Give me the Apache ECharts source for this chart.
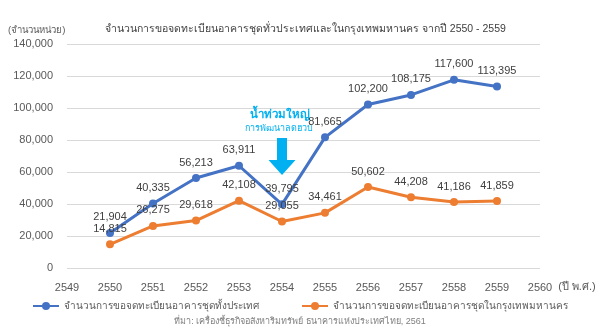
<!DOCTYPE html>
<html>
<head>
<meta charset="utf-8">
<script src="https://cdn.jsdelivr.net/npm/echarts@6/dist/echarts.min.js"></script>
<style>
  html, body { margin: 0; padding: 0; background: #fff; }
  #chart { width: 600px; height: 334px; }
</style>
</head>
<body>
<div id="chart"></div>
<script>
// Years (Buddhist Era) and condominium registration counts
const years = [2550, 2551, 2552, 2553, 2554, 2555, 2556, 2557, 2558, 2559];
const nationwide = [21904, 40335, 56213, 63911, 39795, 81665, 102200, 108175, 117600, 113395];
const bangkok = [14815, 26275, 29618, 42108, 29055, 34461, 50602, 44208, 41186, 41859];
const yTicks = [0, 20000, 40000, 60000, 80000, 100000, 120000, 140000];

const seriesNames = [
  'จำนวนการขอจดทะเบียนอาคารชุดทั้งประเทศ',
  'จำนวนการขอจดทะเบียนอาคารชุดในกรุงเทพมหานคร'
];
const titleText = 'จำนวนการขอจดทะเบียนอาคารชุดทั่วประเทศและในกรุงเทพมหานคร จากปี 2550 - 2559';
const unitText = '(จำนวนหน่วย)';
const sourceText = 'ที่มา: เครื่องชี้ธุรกิจอสังหาริมทรัพย์ ธนาคารแห่งประเทศไทย, 2561';
const floodTitle = 'น้ำท่วมใหญ่';
const floodSub = 'การพัฒนาลดฮวบ';
const floodYear = 2554;

const FONT = 'sans-serif';
const BLUE = '#4472C4';
const ORANGE = '#ED7D31';
const CYAN = '#00B0F0';

const fmt = v => v.toLocaleString('en-US');

const chart = echarts.init(document.getElementById('chart'));

function lineSeries(name, values, color) {
  return {
    name: name,
    type: 'line',
    data: years.map((y, i) => [y, values[i]]),
    symbol: 'circle',
    symbolSize: 8,
    lineStyle: { width: 3, color: color },
    itemStyle: { color: color },
    label: {
      show: true,
      position: 'top',
      distance: 6,
      color: '#404040',
      fontSize: 11,
      fontFamily: FONT,
      formatter: p => fmt(p.value[1])
    },
    z: 3
  };
}

chart.setOption({
  animation: false,
  textStyle: { fontFamily: FONT },
  title: [
    { text: titleText, left: 100, top: 19, textStyle: { fontSize: 10.5, fontWeight: 'normal', color: '#404040', fontFamily: FONT } },
    { text: unitText, left: 3, top: 20, textStyle: { fontSize: 9.5, fontWeight: 'normal', color: '#595959', fontFamily: FONT } },
    { text: sourceText, left: 'center', top: 312, textStyle: { fontSize: 9, fontWeight: 'normal', color: '#7F7F7F', fontFamily: FONT } }
  ],
  grid: { left: 67, right: 60, top: 44, bottom: 66, containLabel: false },
  legend: {
    top: 296,
    left: 'center',
    itemWidth: 26,
    itemHeight: 10,
    itemGap: 42,
    textStyle: { fontSize: 10, color: '#595959', fontFamily: FONT },
    data: seriesNames
  },
  xAxis: {
    type: 'value',
    min: 2549,
    max: 2560,
    interval: 1,
    name: '(ปี พ.ศ.)',
    nameLocation: 'end',
    nameGap: 14,
    nameTextStyle: { fontSize: 11, color: '#595959', verticalAlign: 'top', padding: [13, 0, 0, 0], fontFamily: FONT },
    axisLine: { show: false },
    axisTick: { show: false },
    splitLine: { show: false },
    axisLabel: { color: '#595959', fontSize: 11, margin: 14, formatter: v => String(v) }
  },
  yAxis: {
    type: 'value',
    min: yTicks[0],
    max: yTicks[yTicks.length - 1],
    interval: yTicks[1] - yTicks[0],
    axisLine: { show: false },
    axisTick: { show: false },
    splitLine: { lineStyle: { color: '#D9D9D9', width: 1 } },
    axisLabel: { color: '#595959', fontSize: 11, margin: 14, formatter: v => fmt(v) }
  },
  series: [
    lineSeries(seriesNames[0], nationwide, BLUE),
    lineSeries(seriesNames[1], bangkok, ORANGE)
  ]
});

// Flood annotation: text and a downward arrow above the 2554 dip
function drawAnnotation() {
  const p = v => chart.convertToPixel({ gridIndex: 0 }, [floodYear, v]);
  const head = p(95600);
  const sub = p(86900);
  const shaftTop = p(81250)[1];
  const headTop = p(67500)[1];
  const tip = p(58100)[1];
  const x = head[0];
  chart.setOption({
    graphic: [
      { type: 'text', x: x - 2, y: head[1], style: { text: floodTitle, fill: CYAN, font: 'bold 11.5px ' + FONT, textAlign: 'center', textVerticalAlign: 'middle' } },
      { type: 'text', x: x - 3, y: sub[1], style: { text: floodSub, fill: CYAN, font: '9px ' + FONT, textAlign: 'center', textVerticalAlign: 'middle' } },
      {
        type: 'polygon',
        shape: {
          points: [
            [x - 5, shaftTop], [x + 5, shaftTop], [x + 5, headTop],
            [x + 13.5, headTop], [x, tip], [x - 13.5, headTop],
            [x - 5, headTop]
          ]
        },
        style: { fill: CYAN }
      }
    ]
  });
}
drawAnnotation();
</script>
</body>
</html>
